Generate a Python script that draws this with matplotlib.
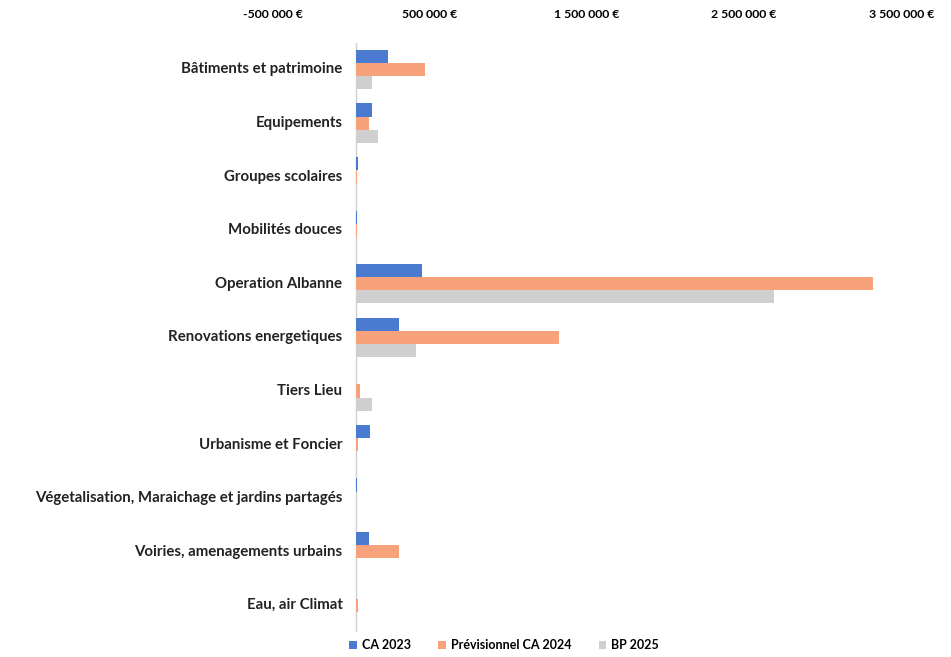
import matplotlib.pyplot as plt
import matplotlib.transforms as mtrans
import numpy as np
from matplotlib.ticker import FuncFormatter

plt.rcParams['font.family'] = ['Lato', 'DejaVu Sans']

categories = ["Bâtiments et patrimoine", "Equipements", "Groupes scolaires",
              "Mobilités douces", "Operation Albanne", "Renovations energetiques",
              "Tiers Lieu", "Urbanisme et Foncier",
              "Végetalisation, Maraichage et jardins partagés",
              "Voiries, amenagements urbains", "Eau, air Climat"]
ca_2023 = [205000, 100000, 12000, 3000, 420000, 270000, 0, 90000, 5000, 80000, 0]
prev_ca_2024 = [440000, 80000, 5000, 3000, 3290000, 1290000, 25000, 10000, 0, 270000, 8000]
bp_2025 = [100000, 140000, 3000, 3000, 2660000, 380000, 100000, 5000, 4000, 5000, 3000]

series = [("CA 2023", ca_2023, "#4a7bd0"),
          ("Prévisionnel CA 2024", prev_ca_2024, "#f7a27a"),
          ("BP 2025", bp_2025, "#cfcfcf")]

fig = plt.figure(figsize=(9.51, 6.57), dpi=100)
ax = fig.add_axes([0.292, 0.038, 0.661, 0.897])

y = np.arange(len(categories))
h = 0.245
for k, (name, vals, col) in enumerate(series):
    ax.barh(y + (k - 1) * h, vals, height=h, color=col, label=name)

ax.set_xlim(-500000, 3500000)
ax.set_ylim(len(categories) - 0.5, -0.5)
ax.axvline(0, color="#d0d0d0", lw=1, zorder=0)

ax.set_xticks([-500000, 500000, 1500000, 2500000, 3500000])
ax.xaxis.set_major_formatter(FuncFormatter(lambda v, p: f"{v:,.0f} €".replace(",", " ")))
ax.xaxis.tick_top()
ax.tick_params(axis="x", length=0, pad=16, labelsize=8.8)
shift = mtrans.ScaledTranslation(-5 / 100, 0, fig.dpi_scale_trans)
for lbl in ax.get_xticklabels():
    lbl.set_fontweight("bold")
    lbl.set_transform(lbl.get_transform() + shift)
ax.set_yticks([])
for s in ax.spines.values():
    s.set_visible(False)

# category names sit next to the zero line, not at the left edge
for i, name in enumerate(categories):
    ax.annotate(name, (0, i), xytext=(-10, 0), textcoords="offset points",
                ha="right", va="center", fontsize=10.8, fontweight="bold",
                color="#222222")

fig.legend(loc="center", bbox_to_anchor=(0.53, 0.018), ncol=3, frameon=False,
           prop={"size": 9, "weight": "bold"}, handlelength=0.6,
           handleheight=0.6, columnspacing=2.2, handletextpad=0.4)

fig.savefig("out.png", dpi=100)
